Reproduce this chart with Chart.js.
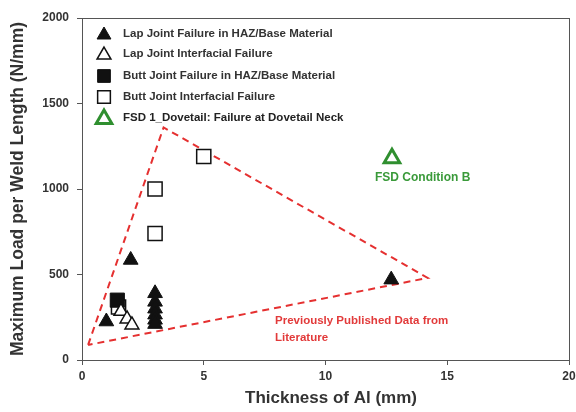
<!DOCTYPE html>
<html>
<head>
<meta charset="utf-8">
<script src="https://cdn.jsdelivr.net/npm/chart.js@4/dist/chart.umd.min.js"></script>
<style>
  html, body { margin: 0; padding: 0; background: #fff; overflow: hidden; }
  #wrap { width: 581px; height: 412px; }
</style>
</head>
<body>
<div id="wrap"><canvas id="chart"></canvas></div>
<script>
// data (thickness mm, load N/mm)
const lapHazX = [1.0, 2.0, 3.0, 3.0, 3.0, 3.0, 3.0, 3.0, 12.7];
const lapHazY = [225, 585, 390, 340, 300, 265, 235, 210, 470];
const lapIfX = [1.6, 1.85, 2.05];
const lapIfY = [285, 240, 205];
const buttHazX = [1.45];
const buttHazY = [350];
const buttIfX = [1.5, 3.0, 3.0, 5.0];
const buttIfY = [310, 740, 1000, 1190];
const fsdX = [12.73];
const fsdY = [1180];
const litX = [0.25, 3.35, 14.2, 0.25];
const litY = [88, 1360, 480, 88];

const xTicks = [0, 5, 10, 15, 20];
const yTicks = [0, 500, 1000, 1500, 2000];

const pts = (xs, ys) => xs.map((x, i) => ({ x: x, y: ys[i] }));
const ink = '#333';
const font = 'Liberation Sans, Arial, sans-serif';

const legendItems = [
  { text: 'Lap Joint Failure in HAZ/Base Material', style: 'triangle', fill: '#111', stroke: '#111', lw: 1, r: 8 },
  { text: 'Lap Joint Interfacial Failure', style: 'triangle', fill: '#fff', stroke: '#111', lw: 1.5, r: 8 },
  { text: 'Butt Joint Failure in HAZ/Base Material', style: 'rect', fill: '#111', stroke: '#111', lw: 1, r: 9 },
  { text: 'Butt Joint Interfacial Failure', style: 'rect', fill: '#fff', stroke: '#111', lw: 1.5, r: 9 },
  { text: 'FSD 1_Dovetail: Failure at Dovetail Neck', style: 'triangle', fill: '#fff', stroke: '#2f8f2f', lw: 3, r: 9 }
];

const decor = {
  id: 'decor',
  afterDraw(chart) {
    const c = chart.ctx, a = chart.chartArea;
    c.save();
    // frame
    c.strokeStyle = '#555';
    c.lineWidth = 1;
    c.strokeRect(a.left + 0.5, a.top + 0.5, a.right - a.left, a.bottom - a.top);
    // legend
    c.font = 'bold 11.5px ' + font;
    c.textBaseline = 'middle';
    const rows = [34, 54, 76, 97, 118];
    legendItems.forEach((it, i) => {
      const y = rows[i];
      const opts = { pointStyle: it.style, radius: it.r, borderWidth: it.lw, rotation: 0 };
      c.fillStyle = it.fill;
      c.strokeStyle = it.stroke;
      c.lineWidth = it.lw;
      Chart.helpers.drawPoint(c, opts, 104, y + (it.style === 'triangle' ? 1 : 0));
      c.fillStyle = i === 4 ? '#222' : ink;
      c.fillText(it.text, 123, y);
    });
    // x axis title
    c.fillStyle = ink;
    c.textAlign = 'center';
    c.font = 'bold 17px ' + font;
    c.fillText('Thickness of Al (mm)', 331, 398);
    // annotations
    c.fillStyle = '#3a9a3a';
    c.font = 'bold 12px ' + font;
    c.textAlign = 'left';
    c.fillText('FSD Condition B', 375, 178);
    c.fillStyle = '#e23a3a';
    c.font = 'bold 11.5px ' + font;
    c.fillText('Previously Published Data from', 275, 321);
    c.fillText('Literature', 275, 338);
    c.restore();
  }
};

new Chart(document.getElementById('chart'), {
  type: 'scatter',
  data: {
    datasets: [
      {
        label: 'Previously Published Data from Literature',
        data: pts(litX, litY),
        showLine: true,
        borderColor: '#e53030',
        borderWidth: 2,
        borderDash: [7, 5],
        pointRadius: 0,
        fill: false,
        order: 10
      },
      {
        label: 'Lap Joint Failure in HAZ/Base Material',
        data: pts(lapHazX, lapHazY),
        pointStyle: 'triangle',
        pointRadius: 8.5,
        backgroundColor: '#111',
        borderColor: '#111',
        borderWidth: 1
      },
      {
        label: 'Lap Joint Interfacial Failure',
        data: pts(lapIfX, lapIfY),
        pointStyle: 'triangle',
        pointRadius: 8,
        backgroundColor: '#fff',
        borderColor: '#111',
        borderWidth: 1.5
      },
      {
        label: 'Butt Joint Failure in HAZ/Base Material',
        data: pts(buttHazX, buttHazY),
        pointStyle: 'rect',
        pointRadius: 10,
        backgroundColor: '#111',
        borderColor: '#111',
        borderWidth: 1
      },
      {
        label: 'Butt Joint Interfacial Failure',
        data: pts(buttIfX, buttIfY),
        pointStyle: 'rect',
        pointRadius: 10,
        backgroundColor: '#fff',
        borderColor: '#111',
        borderWidth: 1.5
      },
      {
        label: 'FSD 1_Dovetail: Failure at Dovetail Neck',
        data: pts(fsdX, fsdY),
        pointStyle: 'triangle',
        pointRadius: 9,
        backgroundColor: '#fff',
        borderColor: '#2f8f2f',
        borderWidth: 3
      }
    ]
  },
  options: {
    responsive: true,
    maintainAspectRatio: false,
    animation: false,
    layout: { padding: { top: 18, right: 0, left: 0, bottom: 0 } },
    plugins: {
      legend: { display: false },
      tooltip: { enabled: false }
    },
    scales: {
      x: {
        type: 'linear',
        min: 0,
        max: 20,
        afterBuildTicks: s => { s.ticks = xTicks.map(v => ({ value: v })); },
        afterFit: s => { s.height = 52; },
        grid: { drawOnChartArea: false, drawTicks: true, tickLength: 5, color: '#555' },
        border: { color: '#555', width: 1 },
        ticks: { color: ink, font: { family: font, size: 12, weight: 'bold' }, padding: 4, callback: v => String(v) },
        title: { display: false }
      },
      y: {
        type: 'linear',
        min: 0,
        max: 2000,
        afterBuildTicks: s => { s.ticks = yTicks.map(v => ({ value: v })); },
        afterFit: s => { s.width = 82; },
        grid: { drawOnChartArea: false, drawTicks: true, tickLength: 5, color: '#555' },
        border: { color: '#555', width: 1 },
        ticks: { color: ink, font: { family: font, size: 12, weight: 'bold' }, padding: 8, callback: v => String(v) },
        title: { display: true, text: 'Maximum Load per Weld Length (N/mm)', color: ink, font: { family: font, size: 17.5, weight: 'bold' }, padding: { top: 8, bottom: 0 } }
      }
    }
  },
  plugins: [decor]
});
</script>
</body>
</html>
